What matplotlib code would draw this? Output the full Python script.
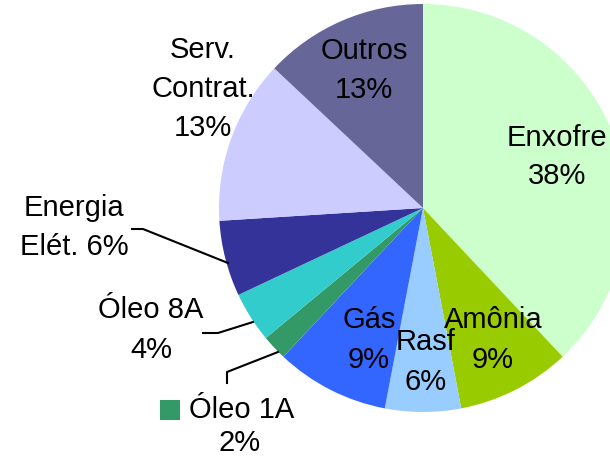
import matplotlib
matplotlib.use("Agg")
import matplotlib.pyplot as plt
from matplotlib.patches import Rectangle

labels = ["Enxofre", "Amônia", "Rasf", "Gás", "Óleo 1A", "Óleo 8A",
          "Energia Elét.", "Serv. Contrat.", "Outros"]
values = [38, 9, 6, 9, 2, 4, 6, 13, 13]
colors = ["#CCFFCC", "#99CC00", "#99CCFF", "#3366FF", "#339966", "#33CCCC",
          "#333399", "#CCCCFF", "#666699"]

W, H = 610, 465
fig = plt.figure(figsize=(W / 100, H / 100), dpi=100)
ax = fig.add_axes([0, 0, 1, 1])

def Y(y):
    return H - y

cx, cy, R = 423, Y(208), 204
ax.pie(values, colors=colors, startangle=90, counterclock=False,
       radius=R, center=(cx, cy), frame=True,
       wedgeprops=dict(linewidth=0))
ax.set_xlim(0, W)
ax.set_ylim(0, H)
ax.set_aspect("equal")
ax.axis("off")

fs = 21
font = dict(family=["Liberation Sans", "DejaVu Sans"], fontsize=fs,
            ha="center", va="center", color="black", linespacing=1.5)

texts = [
    ("Enxofre\n38%", 557, 157),
    ("Amônia\n9%", 493, 340),
    ("Rasf\n6%", 426, 362),
    ("Gás\n9%", 369, 340),
    ("Óleo 8A\n4%", 151, 330),
    ("Energia\nElét. 6%", 74, 228),
    ("Serv.\nContrat.\n13%", 203, 89),
    ("Outros\n13%", 364, 71),
]
for t, x, y in texts:
    ax.text(x, Y(y), t, **font)

ax.text(242, Y(410), "Óleo 1A", **font)
ax.text(240, Y(443), "2%", **font)
ax.add_patch(Rectangle((160, Y(420)), 20, 20, color=colors[4], lw=0))

# leader lines
ax.plot([132, 143, 228], [Y(229), Y(229), Y(263)], color="black", lw=1.5)
ax.plot([203, 218, 253], [Y(333), Y(333), Y(322)], color="black", lw=1.5)
ax.plot([227, 227, 278], [Y(383), Y(372), Y(352)], color="black", lw=1.5)

fig.savefig("out.png", dpi=100)
